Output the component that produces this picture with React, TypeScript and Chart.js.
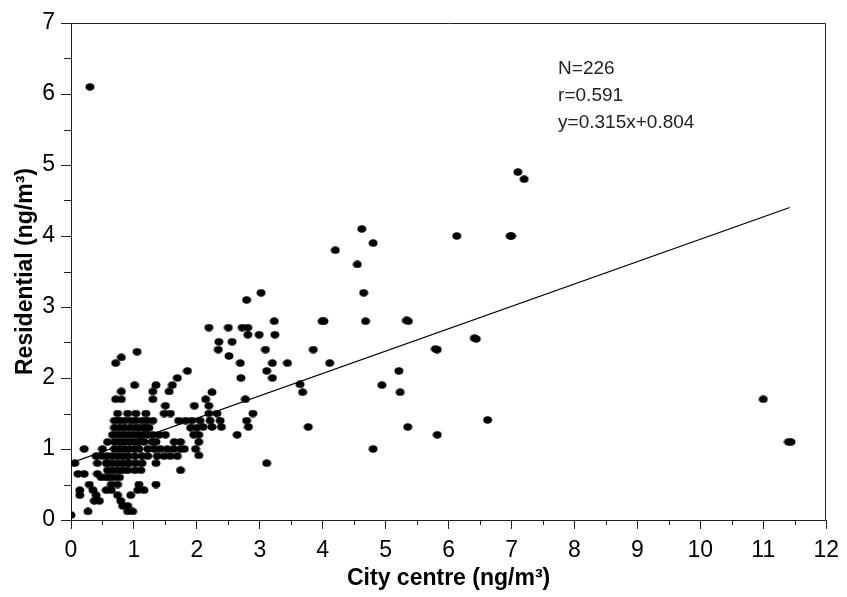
import React, { useEffect, useRef } from "react";
import { Chart, registerables } from "chart.js";

Chart.register(...registerables);

// City centre concentrations (x), ng/m³
const cityCentre = [
  0.30, 7.10, 7.20, 6.13, 7.00, 6.98, 4.62, 4.80, 4.55, 4.20,
  4.65, 4.68, 3.99, 4.02, 5.33, 5.36, 6.41, 6.44, 5.79, 5.82,
  5.21, 5.23, 4.94, 4.80, 5.35, 5.82, 6.62, 11.00, 11.40, 11.44,
  3.02, 2.79, 3.23, 2.19, 2.50, 2.72, 2.81, 2.81, 2.99, 3.24,
  2.35, 2.56, 2.34, 3.09, 3.85, 2.51, 2.69, 3.20, 3.44, 4.11,
  3.11, 2.70, 3.20, 3.64, 3.68, 2.24, 2.14, 2.77, 2.19, 2.19,
  2.89, 2.79, 2.10, 2.24, 2.39, 2.82, 3.77, 2.64, 2.03, 2.03,
  2.03, 3.11,
  0.71, 0.80, 1.05, 1.85, 1.69, 1.61, 1.56, 1.01, 1.30, 1.35,
  0.80, 0.71, 0.80, 1.30, 1.50, 1.96, 2.32,
  0.74, 1.03, 1.19, 1.48, 1.58,
  0.69, 0.77, 0.95, 1.03, 1.13, 1.21, 1.71, 1.82, 1.92, 2.05, 2.21, 2.37,
  0.69, 0.77, 0.85, 0.93, 1.01, 1.08, 1.16, 1.90, 2.00,
  0.66, 0.74, 0.82, 0.90, 0.98, 1.06, 1.14, 1.22, 1.30, 1.40, 1.50, 1.95,
  0.58, 0.69, 0.77, 1.01, 1.08, 1.16, 1.29, 1.35, 1.64, 1.74,
  0.21, 0.50, 0.69, 0.77, 0.85, 0.93, 1.01, 1.08, 1.32, 1.42, 1.53, 1.63, 1.74, 1.80, 1.98,
  0.40, 0.58, 0.66, 0.74, 0.82, 0.90, 1.01, 1.13, 1.37, 1.48, 1.58, 1.69,
  0.06, 0.42, 0.58, 0.66, 0.74, 0.82, 0.90, 1.03, 1.13, 1.35,
  0.58, 0.66, 0.74, 0.82, 1.01, 1.11, 1.74,
  0.11, 0.21, 0.42,
  0.48, 0.56, 0.62, 0.69, 0.77,
  0.29, 0.64, 0.74, 1.08, 1.35,
  0.14, 0.35, 0.56, 0.64, 1.06, 1.16,
  0.14, 0.40, 0.74, 0.95,
  0.37, 0.45, 0.79,
  0.82, 0.90,
  0.27, 0.90, 0.98,
  0.00,
  0.85, 0.90, 0.85, 0.93, 1.22, 1.22, 0.93, 0.90, 1.18, 1.24, 1.30, 0.50, 0.56,
];

// Residential concentrations (y), ng/m³
const residential = [
  6.10, 4.90, 4.80, 4.00, 4.00, 4.00, 4.10, 3.90, 3.60, 3.80,
  3.20, 2.80, 2.80, 2.80, 2.81, 2.80, 2.56, 2.55, 2.41, 2.40,
  2.10, 1.80, 1.90, 1.00, 1.31, 1.20, 1.41, 1.70, 1.10, 1.10,
  3.20, 3.10, 2.80, 2.71, 2.71, 2.71, 2.71, 2.61, 2.61, 2.61,
  2.51, 2.51, 2.40, 2.40, 2.40, 2.31, 2.21, 2.21, 2.21, 2.21,
  2.10, 2.00, 2.00, 1.91, 1.80, 1.80, 1.70, 1.70, 1.61, 1.50,
  1.50, 1.40, 1.31, 1.31, 1.31, 1.31, 1.31, 1.20, 1.20, 1.10,
  0.91, 0.80,
  2.21, 2.29, 2.37, 2.10, 2.00, 1.90, 1.81, 1.90, 1.81, 1.90,
  1.81, 1.70, 1.70, 1.70, 1.61, 1.61, 1.50,
  1.50, 1.50, 1.50, 1.50, 1.50,
  1.40, 1.40, 1.40, 1.40, 1.40, 1.40, 1.40, 1.40, 1.40, 1.40, 1.40, 1.40,
  1.30, 1.30, 1.30, 1.30, 1.30, 1.30, 1.30, 1.30, 1.30,
  1.20, 1.20, 1.20, 1.20, 1.20, 1.20, 1.20, 1.20, 1.20, 1.20, 1.20, 1.20,
  1.10, 1.10, 1.10, 1.10, 1.10, 1.10, 1.10, 1.10, 1.10, 1.10,
  1.00, 1.00, 1.00, 1.00, 1.00, 1.00, 1.00, 1.00, 1.00, 1.00, 1.00, 1.00, 1.00, 1.00, 1.00,
  0.90, 0.90, 0.90, 0.90, 0.90, 0.90, 0.90, 0.90, 0.90, 0.90, 0.90, 0.90,
  0.80, 0.80, 0.80, 0.80, 0.80, 0.80, 0.80, 0.80, 0.80, 0.80,
  0.70, 0.70, 0.70, 0.70, 0.70, 0.70, 0.70,
  0.65, 0.65, 0.65,
  0.60, 0.60, 0.60, 0.60, 0.60,
  0.50, 0.50, 0.50, 0.50, 0.50,
  0.42, 0.42, 0.42, 0.42, 0.42, 0.42,
  0.35, 0.35, 0.35, 0.35,
  0.27, 0.27, 0.27,
  0.20, 0.20,
  0.12, 0.12, 0.12,
  0.07,
  1.40, 1.50, 1.10, 1.10, 1.00, 0.90, 0.80, 0.70, 1.30, 1.30, 1.40, 0.90, 0.80,
];

// Regression reported on the chart
const fitSlope = 0.315;
const fitIntercept = 0.804;
const fitXRange = [0, 11.42];
const statsLines = ["N=226", "r=0.591", "y=0.315x+0.804"];

const xAxisTitle = "City centre (ng/m³)";
const yAxisTitle = "Residential (ng/m³)";

const FONT = "'Liberation Sans', Arial, Helvetica, sans-serif";
const AXIS_COLOR = "#222";

function makeDot(): HTMLCanvasElement {
  const c = document.createElement("canvas");
  c.width = 10;
  c.height = 8;
  const g = c.getContext("2d")!;
  g.fillStyle = "#000";
  g.beginPath();
  g.ellipse(5, 4, 4.5, 3.8, 0, 0, Math.PI * 2);
  g.fill();
  return c;
}

const decorPlugin = {
  id: "decor",
  afterDraw(chart: any) {
    const { ctx, chartArea: a, scales } = chart;
    const xs = scales.x;
    const ys = scales.y;
    ctx.save();
    ctx.strokeStyle = AXIS_COLOR;
    ctx.lineWidth = 1;
    ctx.beginPath();
    const top = Math.round(a.top) + 0.5;
    const right = Math.round(a.right) - 0.5;
    ctx.moveTo(a.left, top);
    ctx.lineTo(right, top);
    ctx.lineTo(right, a.bottom);
    // minor ticks
    for (let v = 0.5; v < 12; v += 1) {
      const px = Math.round(xs.getPixelForValue(v)) + 0.5;
      ctx.moveTo(px, a.bottom);
      ctx.lineTo(px, a.bottom + 5);
    }
    for (let v = 0.5; v < 7; v += 1) {
      const py = Math.round(ys.getPixelForValue(v)) + 0.5;
      ctx.moveTo(a.left, py);
      ctx.lineTo(a.left - 7, py);
    }
    ctx.stroke();

    // statistics annotation
    ctx.fillStyle = "#222";
    ctx.font = `19px ${FONT}`;
    ctx.textAlign = "left";
    ctx.textBaseline = "alphabetic";
    const tx = xs.getPixelForValue(7.74);
    const tyVals = [6.28, 5.9, 5.525];
    statsLines.forEach((s, i) => {
      ctx.fillText(s, tx, ys.getPixelForValue(tyVals[i]));
    });
    ctx.restore();
  },
};

export default function App() {
  const ref = useRef<HTMLCanvasElement | null>(null);

  useEffect(() => {
    if (!ref.current) return;
    const points = cityCentre.map((x, i) => ({ x, y: residential[i] }));
    const fitLine = fitXRange.map((x) => ({ x, y: fitSlope * x + fitIntercept }));
    const dot = makeDot();
    const chart = new Chart(ref.current, {
      type: "scatter",
      data: {
        datasets: [
          {
            label: "Samples",
            data: points,
            backgroundColor: "#000",
            borderWidth: 0,
            pointRadius: 4,
            pointStyle: dot as any,
          },
          {
            label: "Fit",
            data: fitLine,
            showLine: true,
            borderColor: "#000",
            borderWidth: 1.3,
            pointRadius: 0,
          } as any,
        ],
      },
      options: {
        responsive: false,
        animation: false,
        events: [],
        layout: { padding: { top: 23, right: 15, left: 0, bottom: 0 } },
        plugins: {
          legend: { display: false },
          tooltip: { enabled: false },
        },
        scales: {
          x: {
            type: "linear",
            min: 0,
            max: 12,
            afterFit: (s: any) => {
              s.height = 77;
            },
            ticks: {
              stepSize: 1,
              color: "#000",
              font: { family: FONT, size: 23 },
              padding: 8,
              maxRotation: 0,
              autoSkip: false,
            },
            grid: {
              drawOnChartArea: false,
              drawTicks: true,
              tickLength: 9,
              color: AXIS_COLOR,
            },
            border: { display: true, color: AXIS_COLOR, width: 1 },
            title: {
              display: true,
              text: xAxisTitle,
              color: "#000",
              font: { family: FONT, size: 23, weight: "bold" },
              padding: { top: 0, bottom: 5 },
            },
          },
          y: {
            type: "linear",
            min: 0,
            max: 7,
            afterFit: (s: any) => {
              s.width = 71;
            },
            ticks: {
              stepSize: 1,
              color: "#000",
              font: { family: FONT, size: 23 },
              padding: 6,
            },
            grid: {
              drawOnChartArea: false,
              drawTicks: true,
              tickLength: 10,
              color: AXIS_COLOR,
            },
            border: { display: true, color: AXIS_COLOR, width: 1 },
            title: {
              display: true,
              text: yAxisTitle,
              color: "#000",
              font: { family: FONT, size: 23, weight: "bold" },
              padding: { top: 12, bottom: 0 },
            },
          },
        },
      },
      plugins: [decorPlugin],
    });
    return () => chart.destroy();
  }, []);

  return (
    <div
      style={{
        position: "fixed",
        left: 0,
        top: 0,
        width: 847,
        height: 597,
        background: "#fff",
      }}
    >
      <canvas ref={ref} width={847} height={597} />
    </div>
  );
}
